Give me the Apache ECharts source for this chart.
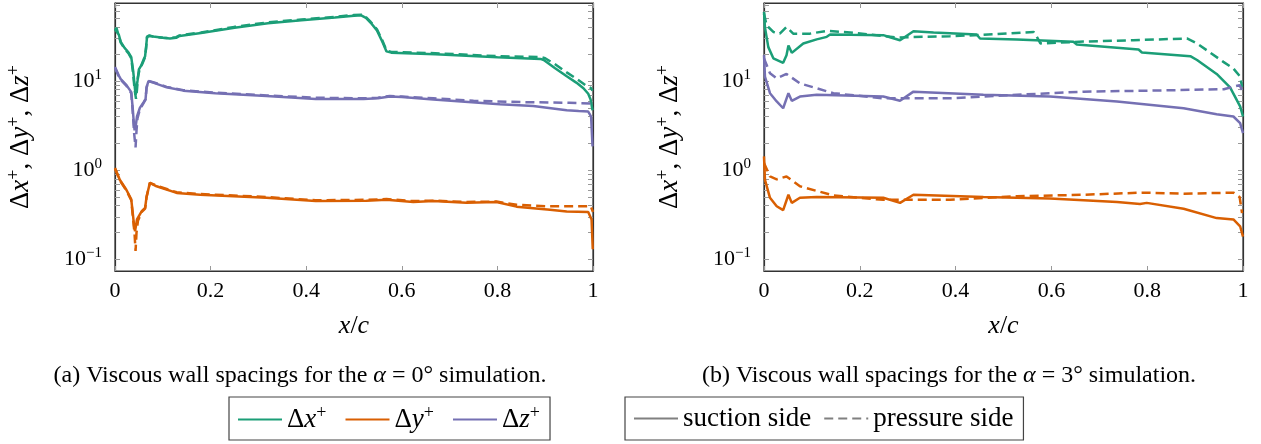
<!DOCTYPE html>
<html>
<head>
<meta charset="utf-8">
<script src="https://cdn.jsdelivr.net/npm/echarts@6/dist/echarts.min.js"></script>
<style>
html,body{margin:0;padding:0;background:#fff;}
#chart{width:1261px;height:444px;}
</style>
</head>
<body>
<div id="chart"></div>
<script>
// ---------- DATA ----------
const xTickValues = [0, 0.2, 0.4, 0.6, 0.8, 1];
const xTickLabels = ['0', '0.2', '0.4', '0.6', '0.8', '1'];
const yMajorTicks = [0.1, 1, 10];
const yMajorLabels = ['\u22121', '0', '1'];
const yMinorTicks = [0.2,0.3,0.4,0.5,0.6,0.7,0.8,0.9,2,3,4,5,6,7,8,9,20,30,40,50,60,70];

const captionA = ['(a) Viscous wall spacings for the ', 'α', ' = 0° simulation.'];
const captionB = ['(b) Viscous wall spacings for the ', 'α', ' = 3° simulation.'];
const legendQuantities = ['dx', 'dy', 'dz'];
const legendSides = ['suction side', 'pressure side'];

// alpha = 0 deg
const a0_dx_suction = [[0,38],[0.003,40],[0.008,33],[0.012,27.5],[0.02,23.5],[0.028,21],[0.034,18.5],[0.038,13],[0.041,9],[0.043,7],[0.045,6.8],[0.047,10],[0.05,13.5],[0.055,15],[0.06,17.5],[0.063,19],[0.065,24],[0.067,31],[0.072,32],[0.08,31.5],[0.1,30.5],[0.115,30],[0.128,30.5],[0.135,32],[0.18,34.5],[0.25,39.5],[0.32,44.5],[0.39,48],[0.46,51.5],[0.5,54],[0.515,54.5],[0.525,51],[0.535,45],[0.548,37],[0.56,27],[0.568,21.5],[0.578,20.8],[0.67,20],[0.8,18.5],[0.89,17.7],[0.897,17.2],[0.92,14],[0.945,11.3],[0.965,9.6],[0.98,8.3],[0.99,7.2],[0.995,6.2],[0.999,4.7]];
const a0_dx_pressure = [[0,37],[0.003,39.5],[0.008,32],[0.012,27],[0.02,23],[0.028,20.5],[0.034,18],[0.038,12],[0.041,8],[0.044,6.3],[0.046,8],[0.048,11],[0.052,14],[0.057,15.5],[0.062,18],[0.065,23],[0.067,31.5],[0.072,32.5],[0.08,31.5],[0.1,30.5],[0.115,30.2],[0.128,31],[0.135,32.5],[0.18,35],[0.25,40.5],[0.32,45.5],[0.39,49],[0.46,52.5],[0.5,55],[0.515,55.5],[0.525,52],[0.535,46],[0.548,38],[0.56,28],[0.568,22],[0.578,21.2],[0.67,20.5],[0.8,19],[0.89,18.6],[0.9,18],[0.92,15.5],[0.945,12.5],[0.97,10.2],[0.985,8.9],[0.995,8.4],[0.999,7.8]];
const a0_dy_suction = [[0,1.06],[0.003,1.08],[0.01,0.78],[0.024,0.6],[0.034,0.47],[0.038,0.3],[0.04,0.235],[0.042,0.207],[0.046,0.28],[0.056,0.347],[0.063,0.378],[0.066,0.5],[0.073,0.72],[0.087,0.66],[0.129,0.556],[0.178,0.53],[0.248,0.51],[0.317,0.49],[0.42,0.45],[0.526,0.455],[0.568,0.465],[0.624,0.44],[0.666,0.45],[0.735,0.43],[0.798,0.44],[0.84,0.39],[0.91,0.36],[0.945,0.345],[0.99,0.34],[0.997,0.28],[0.9995,0.13]];
const a0_dy_pressure = [[0,1.04],[0.003,1.06],[0.01,0.77],[0.024,0.59],[0.034,0.46],[0.038,0.28],[0.041,0.19],[0.043,0.124],[0.045,0.2],[0.048,0.27],[0.056,0.34],[0.063,0.37],[0.066,0.5],[0.073,0.72],[0.087,0.67],[0.129,0.565],[0.178,0.54],[0.248,0.52],[0.317,0.5],[0.42,0.46],[0.526,0.465],[0.568,0.475],[0.624,0.45],[0.666,0.455],[0.735,0.44],[0.798,0.445],[0.84,0.41],[0.9,0.395],[0.995,0.395],[1,0.34]];
const a0_dz_suction = [[0,14.4],[0.003,15],[0.008,11.5],[0.012,10.5],[0.024,9],[0.034,7.5],[0.037,5],[0.039,3.6],[0.041,2.8],[0.044,3.3],[0.046,4],[0.052,5],[0.06,5.8],[0.064,6.3],[0.066,8.5],[0.07,10],[0.08,9.6],[0.108,8.5],[0.143,7.8],[0.21,7.3],[0.317,6.8],[0.42,6.3],[0.52,6.3],[0.55,6.4],[0.575,6.7],[0.6,6.6],[0.666,6.2],[0.805,5.5],[0.875,5.25],[0.945,4.7],[0.97,4.6],[0.99,4.55],[0.996,4.0],[0.999,1.85]];
const a0_dz_pressure = [[0,14],[0.003,14.6],[0.008,11.2],[0.012,10.3],[0.024,8.8],[0.034,7.3],[0.037,4.6],[0.04,2.6],[0.043,1.8],[0.045,2.8],[0.047,3.8],[0.052,4.8],[0.06,5.7],[0.064,6.2],[0.066,8.4],[0.07,10],[0.08,9.7],[0.108,8.6],[0.143,7.9],[0.21,7.4],[0.317,6.9],[0.42,6.5],[0.52,6.4],[0.55,6.5],[0.575,6.8],[0.6,6.7],[0.666,6.4],[0.75,6.0],[0.85,5.8],[0.95,5.7],[0.999,5.6]];

// alpha = 3 deg
const a3_dx_suction = [[0,59.6],[0.002,40],[0.009,24],[0.0195,18],[0.04,16],[0.047,19.5],[0.051,25],[0.058,20.7],[0.082,26.4],[0.11,29.3],[0.131,31.3],[0.138,33.2],[0.18,33],[0.249,32.7],[0.263,31],[0.284,28.7],[0.312,36.2],[0.354,35],[0.444,33.2],[0.451,30],[0.528,29.3],[0.646,27.6],[0.653,25.7],[0.782,22.6],[0.789,20.9],[0.89,19],[0.904,17.2],[0.945,12],[0.973,8.5],[0.994,5.2],[1,4.0]];
const a3_dx_pressure = [[0,57],[0.0056,42],[0.0195,35.5],[0.033,34],[0.047,40.4],[0.061,34],[0.096,34],[0.131,36.5],[0.18,35],[0.277,30.8],[0.388,31.8],[0.458,33],[0.563,35.5],[0.57,31],[0.577,26.4],[0.667,27.7],[0.771,28.7],[0.883,30],[0.904,26.4],[0.959,16.4],[0.98,13.8],[0.994,11.2],[0.998,8.6]];
const a3_dy_suction = [[0,1.43],[0.002,0.78],[0.0125,0.49],[0.0265,0.394],[0.04,0.356],[0.051,0.53],[0.058,0.43],[0.075,0.49],[0.11,0.5],[0.249,0.49],[0.284,0.43],[0.312,0.53],[0.458,0.5],[0.597,0.48],[0.737,0.44],[0.785,0.417],[0.799,0.43],[0.876,0.37],[0.945,0.29],[0.98,0.28],[0.994,0.235],[1,0.18]];
const a3_dy_pressure = [[0,1.2],[0.0125,0.85],[0.0265,0.79],[0.047,0.85],[0.075,0.66],[0.145,0.52],[0.249,0.465],[0.388,0.465],[0.528,0.51],[0.667,0.53],[0.792,0.56],[0.876,0.545],[0.98,0.56],[0.993,0.5],[0.998,0.33]];
const a3_dz_suction = [[0,19.5],[0.002,11.2],[0.0125,7.3],[0.0265,5.9],[0.04,4.95],[0.051,7.3],[0.058,6.0],[0.075,6.7],[0.11,7.0],[0.249,6.7],[0.284,6.0],[0.312,7.6],[0.458,7.0],[0.597,6.7],[0.737,5.9],[0.876,4.95],[0.945,4.25],[0.98,4.0],[0.994,3.37],[1,2.6]];
const a3_dz_pressure = [[0,17.9],[0.0125,12.2],[0.0265,10.7],[0.047,12],[0.075,9.4],[0.145,7.3],[0.249,6.4],[0.388,6.4],[0.528,7.0],[0.667,7.6],[0.806,7.8],[0.96,8.1],[0.993,9.0],[1,7.5]];

// ---------- STYLE ----------
const FONT = '"Liberation Serif", "DejaVu Serif", serif';
const GREEN = '#1b9e77', ORANGE = '#d95f02', PURPLE = '#7570b3', GRAY = '#808080';
const LW = 2.5;
const DASH = [9, 5];
const TXT = '#000';

function mathRich(size, supSize, lift) {
  return {
    r: {fontFamily: FONT, fontSize: size, color: TXT},
    i: {fontFamily: FONT, fontSize: size, color: TXT, fontStyle: 'italic'},
    s: {fontFamily: FONT, fontSize: supSize, color: TXT, padding: [0, 0, lift, 0]}
  };
}

const chart = echarts.init(document.getElementById('chart'), null, {renderer: 'canvas'});

const grids = [
  {left: 115, top: 3, width: 478, height: 268},
  {left: 764, top: 3, width: 479, height: 268}
];

function xAxes(gi) {
  return [
    {type: 'value', gridIndex: gi, min: 0, max: 1, interval: 0.2, position: 'bottom',
     axisLine: {show: true, onZero: false, lineStyle: {color: '#333', width: 1.2}},
     axisTick: {show: true, inside: true, length: 5, lineStyle: {color: '#999'}},
     axisLabel: {show: true, margin: 9, color: TXT, fontFamily: FONT, fontSize: 22,
       formatter: v => { const k = xTickValues.findIndex(t => Math.abs(t - v) < 1e-9); return k >= 0 ? xTickLabels[k] : ''; }},
     splitLine: {show: false},
     name: '{i|x}{r|/}{i|c}', nameLocation: 'middle', nameGap: 42,
     nameTextStyle: {rich: mathRich(26, 16, 12)}},
    {type: 'value', gridIndex: gi, min: 0, max: 1, interval: 0.2, position: 'top',
     axisLine: {show: true, onZero: false, lineStyle: {color: '#333', width: 1.2}},
     axisTick: {show: true, inside: true, length: 5, lineStyle: {color: '#999'}},
     axisLabel: {show: false}, splitLine: {show: false}}
  ];
}
const allTicks = yMinorTicks.concat(yMajorTicks).sort((a, b) => a - b);
function yAxes(gi) {
  return [
    {type: 'log', logBase: 10, gridIndex: gi, min: 0.074, max: 75, position: 'left',
     axisLine: {show: true, onZero: false, lineStyle: {color: '#333', width: 1.2}},
     axisTick: {show: true, inside: true, length: 5, customValues: allTicks, lineStyle: {color: '#999'}},
     axisLabel: {show: true, margin: 13, customValues: yMajorTicks, color: TXT,
       formatter: v => { const k = yMajorTicks.findIndex(t => Math.abs(t - v) / t < 1e-6); return k >= 0 ? '{r|10}{s|' + yMajorLabels[k] + '}' : ''; },
       rich: mathRich(22, 15, 12)},
     splitLine: {show: false}, minorTick: {show: false},
     name: '{r|Δ}{i|x}{s|+}{r|, Δ}{i|y}{s|+}{r|, Δ}{i|z}{s|+}', nameLocation: 'middle', nameGap: 78, nameRotate: 90,
     nameTextStyle: {rich: mathRich(27, 18, 14)}},
    {type: 'log', logBase: 10, gridIndex: gi, min: 0.074, max: 75, position: 'right',
     axisLine: {show: true, onZero: false, lineStyle: {color: '#333', width: 1.2}},
     axisTick: {show: true, inside: true, length: 5, customValues: allTicks, lineStyle: {color: '#999'}},
     axisLabel: {show: false}, splitLine: {show: false}}
  ];
}

function line(name, data, color, dashed, xi, yi) {
  return {
    type: 'line', name: name, data: data, xAxisIndex: xi, yAxisIndex: yi,
    symbol: 'none', showSymbol: false, smooth: false, silent: true, animation: false,
    color: color,
    lineStyle: {color: color, width: LW, type: dashed ? DASH : 'solid'},
    z: dashed ? 3 : 2
  };
}

const series = [
  line('dx', a0_dx_suction, GREEN, false, 0, 0),
  line('dx_p', a0_dx_pressure, GREEN, true, 0, 0),
  line('dy', a0_dy_suction, ORANGE, false, 0, 0),
  line('dy_p', a0_dy_pressure, ORANGE, true, 0, 0),
  line('dz', a0_dz_suction, PURPLE, false, 0, 0),
  line('dz_p', a0_dz_pressure, PURPLE, true, 0, 0),
  line('dx', a3_dx_suction, GREEN, false, 2, 2),
  line('dx_p', a3_dx_pressure, GREEN, true, 2, 2),
  line('dy', a3_dy_suction, ORANGE, false, 2, 2),
  line('dy_p', a3_dy_pressure, ORANGE, true, 2, 2),
  line('dz', a3_dz_suction, PURPLE, false, 2, 2),
  line('dz_p', a3_dz_pressure, PURPLE, true, 2, 2),
  line(legendSides[0], [], GRAY, false, 0, 0),
  line(legendSides[1], [], GRAY, true, 0, 0)
];

const legendRich = mathRich(27, 18, 13);
const qLabel = {dx: '{r|Δ}{i|x}{s|+}', dy: '{r|Δ}{i|y}{s|+}', dz: '{r|Δ}{i|z}{s|+}'};

const capRich = {
  r: {fontFamily: FONT, fontSize: 24, color: TXT},
  i: {fontFamily: FONT, fontSize: 24, color: TXT, fontStyle: 'italic'}
};
function cap(parts) { return '{r|' + parts[0] + '}{i|' + parts[1] + '}{r|' + parts[2] + '}'; }

const legendCommon = {
  orient: 'horizontal', borderColor: '#444', borderWidth: 1.2,
  itemWidth: 44, itemHeight: 14, selectedMode: false,
  itemStyle: {opacity: 0}
};

chart.setOption({
  animation: false,
  backgroundColor: '#fff',
  grid: grids.map(g => Object.assign({show: true, borderColor: '#333', borderWidth: 1.2, containLabel: false}, g)),
  xAxis: xAxes(0).concat(xAxes(1)),
  yAxis: yAxes(0).concat(yAxes(1)),
  series: series,
  legend: [
    Object.assign({}, legendCommon, {data: legendQuantities, left: 229, top: 397,
     padding: [7, 10, 7, 8], itemGap: 18,
     formatter: n => qLabel[n], textStyle: {rich: legendRich}}),
    Object.assign({}, legendCommon, {data: legendSides, left: 625, top: 397,
     padding: [8, 10, 8, 8], itemGap: 12,
     textStyle: {fontFamily: FONT, fontSize: 27, color: TXT}})
  ],
  graphic: [
    {type: 'text', x: 300, y: 364,
     style: {text: cap(captionA), rich: capRich, align: 'center', verticalAlign: 'top'}},
    {type: 'text', x: 949, y: 364,
     style: {text: cap(captionB), rich: capRich, align: 'center', verticalAlign: 'top'}}
  ]
});
</script>
</body>
</html>
